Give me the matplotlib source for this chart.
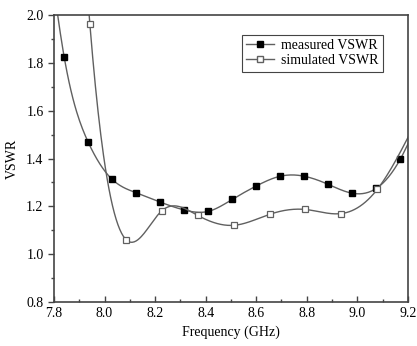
import numpy as np
import matplotlib
matplotlib.use('Agg')
import matplotlib.pyplot as plt
from matplotlib.ticker import MultipleLocator
from matplotlib.lines import Line2D

# measured VSWR
meas_f = [7.84, 7.935, 8.03, 8.125, 8.22, 8.315, 8.41, 8.505, 8.60,
          8.695, 8.79, 8.885, 8.98, 9.075, 9.17]
meas_v = [1.826, 1.469, 1.313, 1.257, 1.218, 1.185, 1.179, 1.229, 1.285,
          1.326, 1.326, 1.292, 1.255, 1.275, 1.397]
# points just outside the visible window, so the curve runs to the frame
meas_f_edge = [7.745, 9.265]
meas_v_edge = [2.6, 1.62]

# simulated VSWR
sim_f = [7.942, 8.085, 8.226, 8.369, 8.513, 8.654, 8.795, 8.937, 9.079]
sim_v = [1.961, 1.061, 1.181, 1.162, 1.121, 1.167, 1.187, 1.170, 1.271]
sim_f_edge = [7.80, 9.221]
sim_v_edge = [4.6, 1.53]


def natural_spline(x, y, n=400):
    # natural cubic spline through the points, only used to draw the line
    x = np.asarray(x, float)
    y = np.asarray(y, float)
    k = len(x)
    h = np.diff(x)
    A = np.zeros((k, k))
    b = np.zeros(k)
    A[0, 0] = A[-1, -1] = 1
    for i in range(1, k - 1):
        A[i, i - 1] = h[i - 1]
        A[i, i] = 2 * (h[i - 1] + h[i])
        A[i, i + 1] = h[i]
        b[i] = 3 * ((y[i + 1] - y[i]) / h[i] - (y[i] - y[i - 1]) / h[i - 1])
    c = np.linalg.solve(A, b)
    xs = np.linspace(x[0], x[-1], n)
    idx = np.clip(np.searchsorted(x, xs) - 1, 0, k - 2)
    dx = xs - x[idx]
    hi = h[idx]
    bb = (y[idx + 1] - y[idx]) / hi - hi * (2 * c[idx] + c[idx + 1]) / 3
    dd = (c[idx + 1] - c[idx]) / (3 * hi)
    ys = y[idx] + bb * dx + c[idx] * dx ** 2 + dd * dx ** 3
    return xs, ys


plt.rcParams['font.family'] = ['Liberation Serif', 'DejaVu Serif']
plt.rcParams['font.size'] = 10

fig = plt.figure(figsize=(4.17, 3.46), dpi=100)
ax = fig.add_axes([0.1295, 0.127, 0.8485, 0.8296])

line_col = '#606060'

mx = [meas_f_edge[0]] + meas_f + [meas_f_edge[1]]
my = [meas_v_edge[0]] + meas_v + [meas_v_edge[1]]
xs, ys = natural_spline(mx, my)
ax.plot(xs, ys, color=line_col, lw=1.0)
ax.plot(meas_f, meas_v, ls='none', marker='s', ms=5, mfc='black', mec='black')

sx = [sim_f_edge[0]] + sim_f + [sim_f_edge[1]]
sy = [sim_v_edge[0]] + sim_v + [sim_v_edge[1]]
xs, ys = natural_spline(sx, sy)
ax.plot(xs, ys, color=line_col, lw=1.0)
ax.plot(sim_f, sim_v, ls='none', marker='s', ms=5, mfc='white', mec=line_col, mew=0.9)

ax.set_xlim(7.8, 9.2)
ax.set_ylim(0.8, 2.0)
ax.xaxis.set_major_locator(MultipleLocator(0.2))
ax.xaxis.set_minor_locator(MultipleLocator(0.1))
ax.yaxis.set_major_locator(MultipleLocator(0.2))
ax.yaxis.set_minor_locator(MultipleLocator(0.1))
ax.xaxis.set_major_formatter(matplotlib.ticker.FormatStrFormatter('%.1f'))
ax.yaxis.set_major_formatter(matplotlib.ticker.FormatStrFormatter('%.1f'))
ax.tick_params(axis='x', which='both', direction='in', top=False, labelsize=10)
ax.tick_params(axis='y', which='both', direction='out', right=False, labelsize=10)
ax.tick_params(which='major', length=4, width=1, color='#444444')
ax.tick_params(which='minor', length=2.5, width=1, color='#444444')
for s in ax.spines.values():
    s.set_color('#444444')
    s.set_linewidth(1.2)

ax.set_xlabel('Frequency (GHz)', labelpad=4)
ax.set_ylabel('VSWR', labelpad=5)

handles = [
    Line2D([], [], color=line_col, lw=1.0, marker='s', ms=4.5, mfc='black', mec='black'),
    Line2D([], [], color=line_col, lw=1.0, marker='s', ms=4.5, mfc='white', mec=line_col),
]
leg = ax.legend(handles, ['measured VSWR', 'simulated VSWR'], loc='upper right',
                bbox_to_anchor=(0.929, 0.93), borderaxespad=0, fancybox=False,
                framealpha=1, edgecolor='#444444', handlelength=2.0,
                handletextpad=0.5, borderpad=0.3, labelspacing=0.15, fontsize=10)
leg.get_frame().set_linewidth(0.8)

fig.savefig('out.png', dpi=100)
